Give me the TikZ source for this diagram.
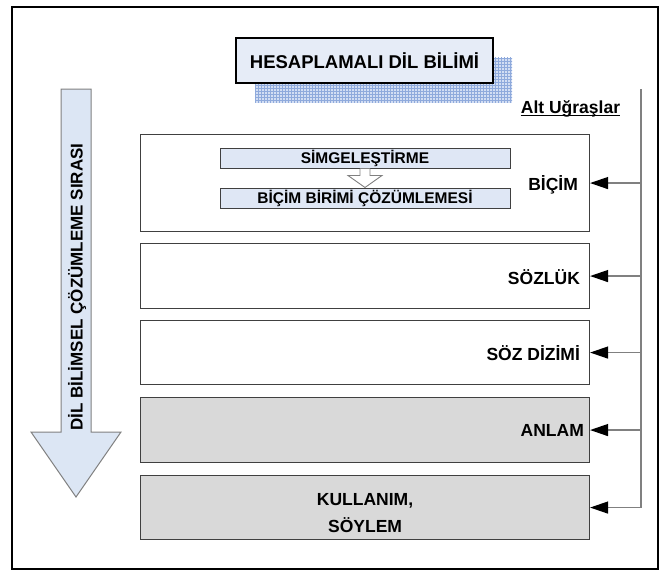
\documentclass[tikz,border=0pt]{standalone}
\usepackage{fontspec}
\setmainfont{Liberation Sans}
\usetikzlibrary{arrows.meta,calc,patterns}

\definecolor{titlefill}{HTML}{E6ECF7}
\definecolor{shadowfill}{HTML}{D3DEF3}
\definecolor{shadowgrid}{HTML}{8FAADC}
\definecolor{innerfill}{HTML}{DFE7F5}
\definecolor{levelgray}{HTML}{D9D9D9}
\definecolor{edgegray}{HTML}{404040}
\definecolor{railgray}{HTML}{808080}
\definecolor{orderfill}{HTML}{DCE6F4}

\tikzset{
  titlebox/.style={draw=black, line width=1.2pt, fill=titlefill, minimum width=257pt,
    minimum height=45pt, inner sep=0pt, font=\fontsize{18.5}{22}\selectfont\bfseries},
  titleshadow/.style={fill=shadowfill, minimum width=257pt, minimum height=45pt, inner sep=0pt,
    postaction={pattern=grid, pattern color=shadowgrid}},
  levelbox/.style={draw=edgegray, line width=1.1pt, minimum width=449pt, inner sep=0pt,
    anchor=north west},
  shaded/.style={fill=levelgray},
  lvllabel/.style={inner sep=0pt, font=\fontsize{17.5}{27}\selectfont\bfseries},
  innerbox/.style={draw=edgegray, line width=1pt, fill=innerfill, minimum width=290pt,
    minimum height=20pt, inner sep=0pt, font=\fontsize{15.5}{17}\selectfont\bfseries},
  hollow/.style={draw=railgray, line width=0.9pt, fill=white, line join=miter},
  rail/.style={draw=railgray, line width=1.3pt,
    -{Triangle[length=18pt,width=12pt,color=black]}},
  orderarrow/.style={draw=railgray, line width=1pt, fill=orderfill},
}

\begin{document}
\begin{tikzpicture}[x=1pt,y=-1pt]
  \useasboundingbox (0,0) rectangle (662,571);

  % outer frame
  \draw[line width=2pt] (12,7) rectangle (658,569);

  % title with checkered shadow
  \coordinate (tc) at (364.5,60.5);
  \node[titleshadow] (tshadow) at ($(tc)+(19,19.5)$) {};
  \node[titlebox] (title) at (tc) {HESAPLAMALI DİL BİLİMİ};

  % caption of the sub-fields
  \node[inner sep=0pt, anchor=base, font=\fontsize{17.5}{20}\selectfont\bfseries]
    (alt) at (570.5,113) {Alt Uğraşlar};
  \draw[line width=1.5pt] ($(alt.base west)+(0,2.5)$) -- ($(alt.base east)+(0,2.5)$);

  % analysis levels
  \node[levelbox, minimum height=97pt] (bicim) at (140,134) {};
  \node[levelbox, minimum height=65pt] (sozluk) at (140,243) {};
  \node[levelbox, minimum height=64pt] (sozdiz) at (140,320) {};
  \node[levelbox, shaded, minimum height=65pt] (anlam) at (140,397) {};
  \node[levelbox, shaded, minimum height=64pt] (kull) at (140,475) {};

  \node[lvllabel, anchor=east] (bicimlbl) at ($(bicim.east)+(-12,1.5)$) {BİÇİM};
  \node[lvllabel, anchor=east] (sozluklbl) at ($(sozluk.east)+(-10,1.5)$) {SÖZLÜK};
  \node[lvllabel, anchor=east] (sozdizlbl) at ($(sozdiz.east)+(-10,1)$) {SÖZ DİZİMİ};
  \node[lvllabel, anchor=east] (anlamlbl) at ($(anlam.east)+(-6,0.5)$) {ANLAM};
  \node[lvllabel, align=center] (kulllbl) at ($(kull.center)+(0,5.5)$) {KULLANIM,\\SÖYLEM};

  % steps inside the morphology level
  \node[innerbox] (simg) at (365,158) {SİMGELEŞTİRME};
  \node[innerbox] (bbc) at (365,198) {BİÇİM BİRİMİ ÇÖZÜMLEMESİ};
  \draw[hollow] ($(simg.south)+(-5,0)$) -- ($(simg.south)+(-5,7)$)
    -- ($(simg.south)+(-17,7)$) -- (bbc.north) -- ($(simg.south)+(17,7)$)
    -- ($(simg.south)+(5,7)$) -- ($(simg.south)+(5,0)$);

  % rail feeding every level
  \coordinate (railtop) at (641,89);
  \draw[rail] (railtop) |- (kull.east);
  \draw[rail] (railtop |- bicim.east) -- (bicim.east);
  \draw[rail] (railtop |- sozluk.east) -- (sozluk.east);
  \draw[rail] (railtop |- sozdiz.east) -- (sozdiz.east);
  \draw[rail] (railtop |- anlam.east) -- (anlam.east);

  % order of analysis
  \draw[orderarrow] (61,89) -- (91,89) -- (91,432) -- (121,432) -- (76,497)
    -- (31,432) -- (61,432) -- cycle;
  \node[rotate=90, inner sep=0pt, font=\fontsize{17}{20}\selectfont\bfseries]
    (order) at (77,287) {DİL BİLİMSEL ÇÖZÜMLEME SIRASI};
\end{tikzpicture}
\end{document}
